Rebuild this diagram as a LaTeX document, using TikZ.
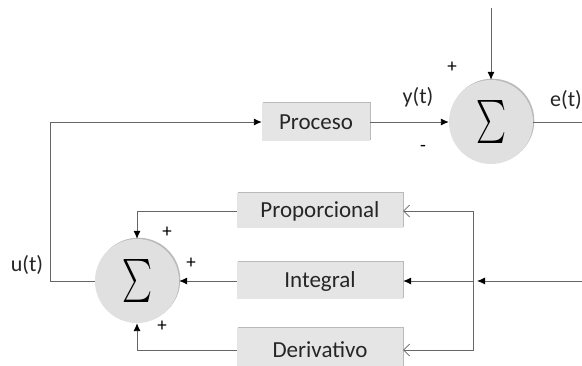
\documentclass[tikz,border=0pt]{standalone}
\usepackage{fontspec}
\usepackage{graphicx}
\setmainfont{Carlito}
\usetikzlibrary{arrows.meta,shadows}
\begin{document}
\begin{tikzpicture}[x=1pt,y=-1pt,
  line/.style={draw=black!60,line width=0.9pt},
  fill arrow/.style={-{Latex[length=8pt,width=7pt,black]}},
  open arrow/.style={-{Straight Barb[length=6pt,width=12pt,line width=0.6pt,black!60]}},
  blockbox/.style={fill=black!10,draw=none,inner sep=0pt,text=black!85,
    font=\fontsize{23}{27}\selectfont,
    drop shadow={shadow xshift=1.3pt,shadow yshift=1.3pt,fill=black!45,opacity=0.6}},
  sumnode/.style={circle,fill=black!12,draw=none,minimum size=84pt,inner sep=0pt,
    drop shadow={shadow xshift=1.3pt,shadow yshift=1.3pt,fill=black!45,opacity=0.6}},
  lbl/.style={font=\fontsize{22}{26}\selectfont,inner sep=0pt,text=black!85},
  sgn/.style={font=\fontsize{19}{22}\selectfont,inner sep=0pt}]
\clip (0,0) rectangle (582,366);
\fill[white] (0,0) rectangle (582,366);
% blocks
\node[blockbox,minimum width=108pt,minimum height=38pt] (proc) at (316,122) {Proceso};
\node[blockbox,minimum width=166pt,minimum height=35pt] (prop) at (320,211) {Proporcional};
\node[blockbox,minimum width=166pt,minimum height=37pt] (int) at (320,281) {Integral};
\node[blockbox,minimum width=166pt,minimum height=44pt] (der) at (320,350) {Derivativo};
% summing junctions
\node[sumnode] (s1) at (491,122) {\resizebox*{30pt}{43pt}{$\sum$}};
\node[sumnode] (s2) at (137,281) {\resizebox*{30pt}{43pt}{$\sum$}};
% coordinates
\coordinate (top) at (491,8);
\coordinate (eout) at (582,122);
\coordinate (rin) at (582,281);
\coordinate (j) at (473,281);
\coordinate (jt) at (477,281);
% connectors
\draw[line,fill arrow] (top) -- (s1.north);
\draw[line,fill arrow] (proc.east) -- (s1.west);
\draw[line] (s1.east) -- (eout);
\draw[line,fill arrow] (s2.west) -- ++(-44,0) |- (proc.west);
\draw[line,fill arrow] (prop.west) -| (s2.north);
\draw[line,fill arrow] (int.west) -- (s2.east);
\draw[line,fill arrow] (der.west) -| (s2.south);
\draw[line,fill arrow] (rin) -- (jt);
\draw[line,fill arrow] (j) -- (int.east);
\draw[line,open arrow] (j) |- (prop.east);
\draw[line,open arrow] (j) |- (der.east);
% labels
\node[lbl] (ut) at (27,265) {u(t)};
\node[lbl] (yt) at (418,97) {y(t)};
\node[lbl,anchor=west] (et) at (550,100) {e(t)};
\node[sgn] (p1) at (452,67) {+};
\node[sgn] (m1) at (423,148) {-};
\node[sgn] (p2) at (167,232) {+};
\node[sgn] (p3) at (191,263) {+};
\node[sgn] (p4) at (162,326) {+};
\end{tikzpicture}
\end{document}
